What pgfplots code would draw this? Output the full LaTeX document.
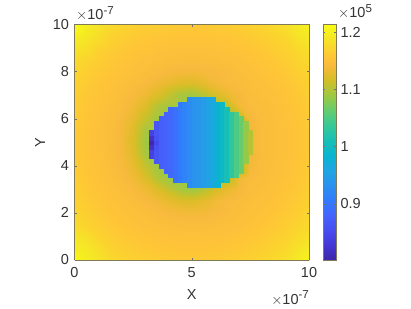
\documentclass[border=0pt]{standalone}
\usepackage{pgfplots}
\usepackage{fontspec}
\setmainfont{Liberation Sans}
\pgfplotsset{compat=1.18}
\definecolor{txt}{gray}{0.2}
\definecolor{axl}{rgb}{0.5,0.48,0.35}
\newcommand{\fs}{\fontsize{14.5}{16}\selectfont}
\newcommand{\expo}[1]{\raisebox{5.5pt}{\fontsize{11.5}{12}\selectfont #1}}
\begin{document}
\begin{tikzpicture}[x=1pt,y=1pt]
\useasboundingbox (0,0) rectangle (411,308);
\begin{axis}[
  at={(74.5pt,48pt)}, anchor=south west,
  scale only axis, width=234.5pt, height=235.5pt,
  view={0}{90},
  xmin=0, xmax=10, ymin=0, ymax=10,
  xtick={0,5,10}, xticklabels={0,5,10},
  ytick={0,2,4,6,8,10}, yticklabels={0,2,4,6,8,10},
  axis line style={color=axl, line width=0.4pt},
  tick style={color=txt!70, line width=0.4pt},
  major tick length=2.4pt,
  tick align=inside,
  tick label style={font=\fs, text=txt},
  xticklabel style={yshift=-4pt},
  yticklabel style={xshift=-2pt},
  xlabel={X}, ylabel={Y},
  label style={font=\fs, text=txt},
  xlabel style={at={(axis description cs:0.5,-0.145)}, anchor=center},
  ylabel style={at={(axis description cs:-0.147,0.5)}, anchor=center},
  axis on top,
  colormap={parula}{
    rgb(0)=(.2422,.1504,.6603) rgb(4)=(.2706,.2147,.8364) rgb(8)=(.2813,.3006,.9414)
    rgb(12)=(.2699,.3892,.9906) rgb(16)=(.1963,.4847,.9892) rgb(20)=(.1687,.5703,.9359)
    rgb(24)=(.1248,.6459,.8883) rgb(28)=(.0297,.7082,.8163) rgb(32)=(.0964,.7500,.7120)
    rgb(36)=(.2161,.7843,.5923) rgb(40)=(.3909,.8029,.4354) rgb(44)=(.6174,.7876,.2612)
    rgb(48)=(.8203,.7498,.1535) rgb(50)=(.9035,.7330,.1774) rgb(52)=(.9728,.7298,.2394)
    rgb(54)=(.9970,.7659,.2199) rgb(56)=(.9892,.8136,.1885) rgb(60)=(.9597,.9135,.1423)
    rgb(63)=(.9769,.9839,.0805)},
  point meta min=0.802, point meta max=1.213,
  colorbar,
  colorbar style={
    at={(1.0597,0)}, anchor=south west,
    width=13pt, height=235.5pt,
    ytick={0.9,1,1.1,1.2}, yticklabels={0.9,1,1.1,1.2},
    yticklabel pos=right,
    tick align=inside,
    major tick length=2.4pt,
    tick label style={font=\fs, text=txt},
    yticklabel style={xshift=1pt},
    axis line style={color=axl, line width=0.4pt},
  },
]
\addplot3[surf, shader=interp, mesh/cols=21] coordinates {
(0,0,1.213)(0.5,0,1.198)(1,0,1.188)(1.5,0,1.178)(2,0,1.173)(2.5,0,1.169)(3,0,1.166)(3.5,0,1.164)(4,0,1.162)(4.5,0,1.160)(5,0,1.160)(5.5,0,1.160)(6,0,1.162)(6.5,0,1.164)(7,0,1.166)(7.5,0,1.169)(8,0,1.173)(8.5,0,1.178)(9,0,1.184)(9.5,0,1.194)(10,0,1.205)
(0,0.5,1.198)(0.5,0.5,1.192)(1,0.5,1.182)(1.5,0.5,1.171)(2,0.5,1.166)(2.5,0.5,1.162)(3,0.5,1.159)(3.5,0.5,1.157)(4,0.5,1.156)(4.5,0.5,1.155)(5,0.5,1.155)(5.5,0.5,1.155)(6,0.5,1.156)(6.5,0.5,1.157)(7,0.5,1.159)(7.5,0.5,1.162)(8,0.5,1.166)(8.5,0.5,1.171)(9,0.5,1.176)(9.5,0.5,1.186)(10,0.5,1.194)
(0,1,1.188)(0.5,1,1.182)(1,1,1.170)(1.5,1,1.165)(2,1,1.160)(2.5,1,1.157)(3,1,1.155)(3.5,1,1.153)(4,1,1.152)(4.5,1,1.151)(5,1,1.151)(5.5,1,1.151)(6,1,1.152)(6.5,1,1.153)(7,1,1.155)(7.5,1,1.157)(8,1,1.160)(8.5,1,1.165)(9,1,1.170)(9.5,1,1.176)(10,1,1.184)
(0,1.5,1.178)(0.5,1.5,1.171)(1,1.5,1.165)(1.5,1.5,1.159)(2,1.5,1.156)(2.5,1.5,1.153)(3,1.5,1.151)(3.5,1.5,1.149)(4,1.5,1.147)(4.5,1.5,1.146)(5,1.5,1.146)(5.5,1.5,1.146)(6,1.5,1.147)(6.5,1.5,1.149)(7,1.5,1.151)(7.5,1.5,1.153)(8,1.5,1.156)(8.5,1.5,1.159)(9,1.5,1.165)(9.5,1.5,1.171)(10,1.5,1.178)
(0,2,1.173)(0.5,2,1.166)(1,2,1.160)(1.5,2,1.156)(2,2,1.153)(2.5,2,1.150)(3,2,1.147)(3.5,2,1.144)(4,2,1.141)(4.5,2,1.139)(5,2,1.138)(5.5,2,1.139)(6,2,1.141)(6.5,2,1.144)(7,2,1.147)(7.5,2,1.150)(8,2,1.153)(8.5,2,1.156)(9,2,1.160)(9.5,2,1.166)(10,2,1.173)
(0,2.5,1.169)(0.5,2.5,1.162)(1,2.5,1.157)(1.5,2.5,1.153)(2,2.5,1.150)(2.5,2.5,1.146)(3,2.5,1.142)(3.5,2.5,1.136)(4,2.5,1.130)(4.5,2.5,1.124)(5,2.5,1.122)(5.5,2.5,1.128)(6,2.5,1.137)(6.5,2.5,1.143)(7,2.5,1.145)(7.5,2.5,1.148)(8,2.5,1.150)(8.5,2.5,1.153)(9,2.5,1.157)(9.5,2.5,1.162)(10,2.5,1.169)
(0,3,1.166)(0.5,3,1.159)(1,3,1.155)(1.5,3,1.151)(2,3,1.147)(2.5,3,1.142)(3,3,1.134)(3.5,3,1.122)(4,3,1.109)(4.5,3,1.094)(5,3,1.090)(5.5,3,1.100)(6,3,1.118)(6.5,3,1.130)(7,3,1.140)(7.5,3,1.146)(8,3,1.148)(8.5,3,1.151)(9,3,1.155)(9.5,3,1.159)(10,3,1.166)
(0,3.5,1.164)(0.5,3.5,1.157)(1,3.5,1.153)(1.5,3.5,1.149)(2,3.5,1.144)(2.5,3.5,1.136)(3,3.5,1.122)(3.5,3.5,1.100)(4,3.5,1.090)(4.5,3.5,1.090)(5,3.5,1.090)(5.5,3.5,1.090)(6,3.5,1.090)(6.5,3.5,1.100)(7,3.5,1.135)(7.5,3.5,1.143)(8,3.5,1.146)(8.5,3.5,1.149)(9,3.5,1.153)(9.5,3.5,1.157)(10,3.5,1.164)
(0,4,1.162)(0.5,4,1.156)(1,4,1.152)(1.5,4,1.147)(2,4,1.141)(2.5,4,1.130)(3,4,1.109)(3.5,4,1.090)(4,4,1.090)(4.5,4,1.090)(5,4,1.090)(5.5,4,1.090)(6,4,1.090)(6.5,4,1.090)(7,4,1.100)(7.5,4,1.138)(8,4,1.146)(8.5,4,1.148)(9,4,1.152)(9.5,4,1.156)(10,4,1.162)
(0,4.5,1.160)(0.5,4.5,1.155)(1,4.5,1.151)(1.5,4.5,1.146)(2,4.5,1.139)(2.5,4.5,1.124)(3,4.5,1.094)(3.5,4.5,1.090)(4,4.5,1.090)(4.5,4.5,1.090)(5,4.5,1.090)(5.5,4.5,1.090)(6,4.5,1.090)(6.5,4.5,1.090)(7,4.5,1.090)(7.5,4.5,1.135)(8,4.5,1.145)(8.5,4.5,1.148)(9,4.5,1.151)(9.5,4.5,1.155)(10,4.5,1.160)
(0,5,1.160)(0.5,5,1.155)(1,5,1.151)(1.5,5,1.146)(2,5,1.138)(2.5,5,1.122)(3,5,1.090)(3.5,5,1.090)(4,5,1.090)(4.5,5,1.090)(5,5,1.090)(5.5,5,1.090)(6,5,1.090)(6.5,5,1.090)(7,5,1.090)(7.5,5,1.135)(8,5,1.145)(8.5,5,1.148)(9,5,1.151)(9.5,5,1.155)(10,5,1.160)
(0,5.5,1.160)(0.5,5.5,1.155)(1,5.5,1.151)(1.5,5.5,1.146)(2,5.5,1.139)(2.5,5.5,1.124)(3,5.5,1.094)(3.5,5.5,1.090)(4,5.5,1.090)(4.5,5.5,1.090)(5,5.5,1.090)(5.5,5.5,1.090)(6,5.5,1.090)(6.5,5.5,1.090)(7,5.5,1.090)(7.5,5.5,1.135)(8,5.5,1.145)(8.5,5.5,1.148)(9,5.5,1.151)(9.5,5.5,1.155)(10,5.5,1.160)
(0,6,1.162)(0.5,6,1.156)(1,6,1.152)(1.5,6,1.147)(2,6,1.141)(2.5,6,1.130)(3,6,1.109)(3.5,6,1.090)(4,6,1.090)(4.5,6,1.090)(5,6,1.090)(5.5,6,1.090)(6,6,1.090)(6.5,6,1.090)(7,6,1.100)(7.5,6,1.138)(8,6,1.146)(8.5,6,1.148)(9,6,1.152)(9.5,6,1.156)(10,6,1.162)
(0,6.5,1.164)(0.5,6.5,1.157)(1,6.5,1.153)(1.5,6.5,1.149)(2,6.5,1.144)(2.5,6.5,1.136)(3,6.5,1.122)(3.5,6.5,1.100)(4,6.5,1.090)(4.5,6.5,1.090)(5,6.5,1.090)(5.5,6.5,1.090)(6,6.5,1.090)(6.5,6.5,1.100)(7,6.5,1.135)(7.5,6.5,1.143)(8,6.5,1.146)(8.5,6.5,1.149)(9,6.5,1.153)(9.5,6.5,1.157)(10,6.5,1.164)
(0,7,1.166)(0.5,7,1.159)(1,7,1.155)(1.5,7,1.151)(2,7,1.147)(2.5,7,1.142)(3,7,1.134)(3.5,7,1.122)(4,7,1.109)(4.5,7,1.094)(5,7,1.090)(5.5,7,1.100)(6,7,1.118)(6.5,7,1.130)(7,7,1.140)(7.5,7,1.146)(8,7,1.148)(8.5,7,1.151)(9,7,1.155)(9.5,7,1.159)(10,7,1.166)
(0,7.5,1.169)(0.5,7.5,1.162)(1,7.5,1.157)(1.5,7.5,1.153)(2,7.5,1.150)(2.5,7.5,1.146)(3,7.5,1.142)(3.5,7.5,1.136)(4,7.5,1.130)(4.5,7.5,1.124)(5,7.5,1.122)(5.5,7.5,1.128)(6,7.5,1.137)(6.5,7.5,1.143)(7,7.5,1.145)(7.5,7.5,1.148)(8,7.5,1.150)(8.5,7.5,1.153)(9,7.5,1.157)(9.5,7.5,1.162)(10,7.5,1.169)
(0,8,1.173)(0.5,8,1.166)(1,8,1.160)(1.5,8,1.156)(2,8,1.153)(2.5,8,1.150)(3,8,1.147)(3.5,8,1.144)(4,8,1.141)(4.5,8,1.139)(5,8,1.138)(5.5,8,1.139)(6,8,1.141)(6.5,8,1.144)(7,8,1.147)(7.5,8,1.150)(8,8,1.153)(8.5,8,1.156)(9,8,1.160)(9.5,8,1.166)(10,8,1.173)
(0,8.5,1.178)(0.5,8.5,1.171)(1,8.5,1.165)(1.5,8.5,1.159)(2,8.5,1.156)(2.5,8.5,1.153)(3,8.5,1.151)(3.5,8.5,1.149)(4,8.5,1.147)(4.5,8.5,1.146)(5,8.5,1.146)(5.5,8.5,1.146)(6,8.5,1.147)(6.5,8.5,1.149)(7,8.5,1.151)(7.5,8.5,1.153)(8,8.5,1.156)(8.5,8.5,1.159)(9,8.5,1.165)(9.5,8.5,1.171)(10,8.5,1.178)
(0,9,1.188)(0.5,9,1.182)(1,9,1.170)(1.5,9,1.165)(2,9,1.160)(2.5,9,1.157)(3,9,1.155)(3.5,9,1.153)(4,9,1.152)(4.5,9,1.151)(5,9,1.151)(5.5,9,1.151)(6,9,1.152)(6.5,9,1.153)(7,9,1.155)(7.5,9,1.157)(8,9,1.160)(8.5,9,1.165)(9,9,1.170)(9.5,9,1.176)(10,9,1.184)
(0,9.5,1.198)(0.5,9.5,1.192)(1,9.5,1.182)(1.5,9.5,1.171)(2,9.5,1.166)(2.5,9.5,1.162)(3,9.5,1.159)(3.5,9.5,1.157)(4,9.5,1.156)(4.5,9.5,1.155)(5,9.5,1.155)(5.5,9.5,1.155)(6,9.5,1.156)(6.5,9.5,1.157)(7,9.5,1.159)(7.5,9.5,1.162)(8,9.5,1.166)(8.5,9.5,1.171)(9,9.5,1.176)(9.5,9.5,1.186)(10,9.5,1.194)
(0,10,1.213)(0.5,10,1.198)(1,10,1.188)(1.5,10,1.178)(2,10,1.173)(2.5,10,1.169)(3,10,1.166)(3.5,10,1.164)(4,10,1.162)(4.5,10,1.160)(5,10,1.160)(5.5,10,1.160)(6,10,1.162)(6.5,10,1.164)(7,10,1.166)(7.5,10,1.169)(8,10,1.173)(8.5,10,1.178)(9,10,1.184)(9.5,10,1.194)(10,10,1.205)
};
\addplot3[scatter, only marks, mark=square*, mark size=2.25pt, line width=0.4pt, point meta=z,
  scatter/use mapped color={draw=mapped color, fill=mapped color}] coordinates {
(4.9,3.2,.925)(5.1,3.2,.935)(5.3,3.2,.94)(5.5,3.2,.945)(5.7,3.2,.955)(5.9,3.2,.965)(6.1,3.2,.98)
(4.3,3.4,.895)(4.5,3.4,.905)(4.7,3.4,.915)(4.9,3.4,.925)(5.1,3.4,.935)(5.3,3.4,.94)(5.5,3.4,.945)(5.7,3.4,.955)(5.9,3.4,.965)(6.1,3.4,.98)(6.3,3.4,.995)(6.5,3.4,1.01)
(4.1,3.6,.885)(4.3,3.6,.895)(4.5,3.6,.905)(4.7,3.6,.915)(4.9,3.6,.925)(5.1,3.6,.935)(5.3,3.6,.94)(5.5,3.6,.945)(5.7,3.6,.955)(5.9,3.6,.965)(6.1,3.6,.98)(6.3,3.6,.995)(6.5,3.6,1.01)(6.7,3.6,1.03)(6.9,3.6,1.05)
(3.9,3.8,.88)(4.1,3.8,.885)(4.3,3.8,.895)(4.5,3.8,.905)(4.7,3.8,.915)(4.9,3.8,.925)(5.1,3.8,.935)(5.3,3.8,.94)(5.5,3.8,.945)(5.7,3.8,.955)(5.9,3.8,.965)(6.1,3.8,.98)(6.3,3.8,.995)(6.5,3.8,1.01)(6.7,3.8,1.03)(6.9,3.8,1.05)(7.1,3.8,1.065)
(3.7,4,.875)(3.9,4,.88)(4.1,4,.885)(4.3,4,.895)(4.5,4,.905)(4.7,4,.915)(4.9,4,.925)(5.1,4,.935)(5.3,4,.94)(5.5,4,.945)(5.7,4,.955)(5.9,4,.965)(6.1,4,.98)(6.3,4,.995)(6.5,4,1.01)(6.7,4,1.03)(6.9,4,1.05)(7.1,4,1.065)
(3.5,4.2,.865)(3.7,4.2,.875)(3.9,4.2,.88)(4.1,4.2,.885)(4.3,4.2,.895)(4.5,4.2,.905)(4.7,4.2,.915)(4.9,4.2,.925)(5.1,4.2,.935)(5.3,4.2,.94)(5.5,4.2,.945)(5.7,4.2,.955)(5.9,4.2,.965)(6.1,4.2,.98)(6.3,4.2,.995)(6.5,4.2,1.01)(6.7,4.2,1.03)(6.9,4.2,1.05)(7.1,4.2,1.065)(7.3,4.2,1.085)
(3.3,4.4,.84)(3.5,4.4,.865)(3.7,4.4,.875)(3.9,4.4,.88)(4.1,4.4,.885)(4.3,4.4,.895)(4.5,4.4,.905)(4.7,4.4,.915)(4.9,4.4,.925)(5.1,4.4,.935)(5.3,4.4,.94)(5.5,4.4,.945)(5.7,4.4,.955)(5.9,4.4,.965)(6.1,4.4,.98)(6.3,4.4,.995)(6.5,4.4,1.01)(6.7,4.4,1.03)(6.9,4.4,1.05)(7.1,4.4,1.065)(7.3,4.4,1.085)
(3.3,4.6,.84)(3.5,4.6,.865)(3.7,4.6,.875)(3.9,4.6,.88)(4.1,4.6,.885)(4.3,4.6,.895)(4.5,4.6,.905)(4.7,4.6,.915)(4.9,4.6,.925)(5.1,4.6,.935)(5.3,4.6,.94)(5.5,4.6,.945)(5.7,4.6,.955)(5.9,4.6,.965)(6.1,4.6,.98)(6.3,4.6,.995)(6.5,4.6,1.01)(6.7,4.6,1.03)(6.9,4.6,1.05)(7.1,4.6,1.065)(7.3,4.6,1.085)(7.5,4.6,1.10)
(3.3,4.8,.82)(3.5,4.8,.86)(3.7,4.8,.875)(3.9,4.8,.88)(4.1,4.8,.885)(4.3,4.8,.895)(4.5,4.8,.905)(4.7,4.8,.915)(4.9,4.8,.925)(5.1,4.8,.935)(5.3,4.8,.94)(5.5,4.8,.945)(5.7,4.8,.955)(5.9,4.8,.965)(6.1,4.8,.98)(6.3,4.8,.995)(6.5,4.8,1.01)(6.7,4.8,1.03)(6.9,4.8,1.05)(7.1,4.8,1.065)(7.3,4.8,1.085)(7.5,4.8,1.10)
(3.3,5,.805)(3.5,5,.85)(3.7,5,.875)(3.9,5,.88)(4.1,5,.885)(4.3,5,.895)(4.5,5,.905)(4.7,5,.915)(4.9,5,.925)(5.1,5,.935)(5.3,5,.94)(5.5,5,.945)(5.7,5,.955)(5.9,5,.965)(6.1,5,.98)(6.3,5,.995)(6.5,5,1.01)(6.7,5,1.03)(6.9,5,1.05)(7.1,5,1.065)(7.3,5,1.085)(7.5,5,1.10)
(3.3,5.2,.82)(3.5,5.2,.86)(3.7,5.2,.875)(3.9,5.2,.88)(4.1,5.2,.885)(4.3,5.2,.895)(4.5,5.2,.905)(4.7,5.2,.915)(4.9,5.2,.925)(5.1,5.2,.935)(5.3,5.2,.94)(5.5,5.2,.945)(5.7,5.2,.955)(5.9,5.2,.965)(6.1,5.2,.98)(6.3,5.2,.995)(6.5,5.2,1.01)(6.7,5.2,1.03)(6.9,5.2,1.05)(7.1,5.2,1.065)(7.3,5.2,1.085)(7.5,5.2,1.10)
(3.3,5.4,.84)(3.5,5.4,.865)(3.7,5.4,.875)(3.9,5.4,.88)(4.1,5.4,.885)(4.3,5.4,.895)(4.5,5.4,.905)(4.7,5.4,.915)(4.9,5.4,.925)(5.1,5.4,.935)(5.3,5.4,.94)(5.5,5.4,.945)(5.7,5.4,.955)(5.9,5.4,.965)(6.1,5.4,.98)(6.3,5.4,.995)(6.5,5.4,1.01)(6.7,5.4,1.03)(6.9,5.4,1.05)(7.1,5.4,1.065)(7.3,5.4,1.085)(7.5,5.4,1.10)
(3.5,5.6,.865)(3.7,5.6,.875)(3.9,5.6,.88)(4.1,5.6,.885)(4.3,5.6,.895)(4.5,5.6,.905)(4.7,5.6,.915)(4.9,5.6,.925)(5.1,5.6,.935)(5.3,5.6,.94)(5.5,5.6,.945)(5.7,5.6,.955)(5.9,5.6,.965)(6.1,5.6,.98)(6.3,5.6,.995)(6.5,5.6,1.01)(6.7,5.6,1.03)(6.9,5.6,1.05)(7.1,5.6,1.065)(7.3,5.6,1.085)
(3.5,5.8,.865)(3.7,5.8,.875)(3.9,5.8,.88)(4.1,5.8,.885)(4.3,5.8,.895)(4.5,5.8,.905)(4.7,5.8,.915)(4.9,5.8,.925)(5.1,5.8,.935)(5.3,5.8,.94)(5.5,5.8,.945)(5.7,5.8,.955)(5.9,5.8,.965)(6.1,5.8,.98)(6.3,5.8,.995)(6.5,5.8,1.01)(6.7,5.8,1.03)(6.9,5.8,1.05)(7.1,5.8,1.065)(7.3,5.8,1.085)
(3.7,6,.875)(3.9,6,.88)(4.1,6,.885)(4.3,6,.895)(4.5,6,.905)(4.7,6,.915)(4.9,6,.925)(5.1,6,.935)(5.3,6,.94)(5.5,6,.945)(5.7,6,.955)(5.9,6,.965)(6.1,6,.98)(6.3,6,.995)(6.5,6,1.01)(6.7,6,1.03)(6.9,6,1.05)(7.1,6,1.065)
(3.9,6.2,.88)(4.1,6.2,.885)(4.3,6.2,.895)(4.5,6.2,.905)(4.7,6.2,.915)(4.9,6.2,.925)(5.1,6.2,.935)(5.3,6.2,.94)(5.5,6.2,.945)(5.7,6.2,.955)(5.9,6.2,.965)(6.1,6.2,.98)(6.3,6.2,.995)(6.5,6.2,1.01)(6.7,6.2,1.03)(6.9,6.2,1.05)
(4.1,6.4,.885)(4.3,6.4,.895)(4.5,6.4,.905)(4.7,6.4,.915)(4.9,6.4,.925)(5.1,6.4,.935)(5.3,6.4,.94)(5.5,6.4,.945)(5.7,6.4,.955)(5.9,6.4,.965)(6.1,6.4,.98)(6.3,6.4,.995)(6.5,6.4,1.01)
(4.5,6.6,.905)(4.7,6.6,.915)(4.9,6.6,.925)(5.1,6.6,.935)(5.3,6.6,.94)(5.5,6.6,.945)(5.7,6.6,.955)(5.9,6.6,.965)(6.1,6.6,.98)(6.3,6.6,.995)
(4.9,6.8,.925)(5.1,6.8,.935)(5.3,6.8,.94)(5.5,6.8,.945)(5.7,6.8,.955)(5.9,6.8,.965)
};
\end{axis}
\node[anchor=base west, inner sep=0pt, text=txt, font=\fs] at (76,288) {$\times$10\expo{-7}};
\node[anchor=base east, inner sep=0pt, text=txt, font=\fs] at (309,4) {$\times$10\expo{-7}};
\node[anchor=base west, inner sep=0pt, text=txt, font=\fs] at (338,290) {$\times$10\expo{5}};
\end{tikzpicture}
\end{document}
